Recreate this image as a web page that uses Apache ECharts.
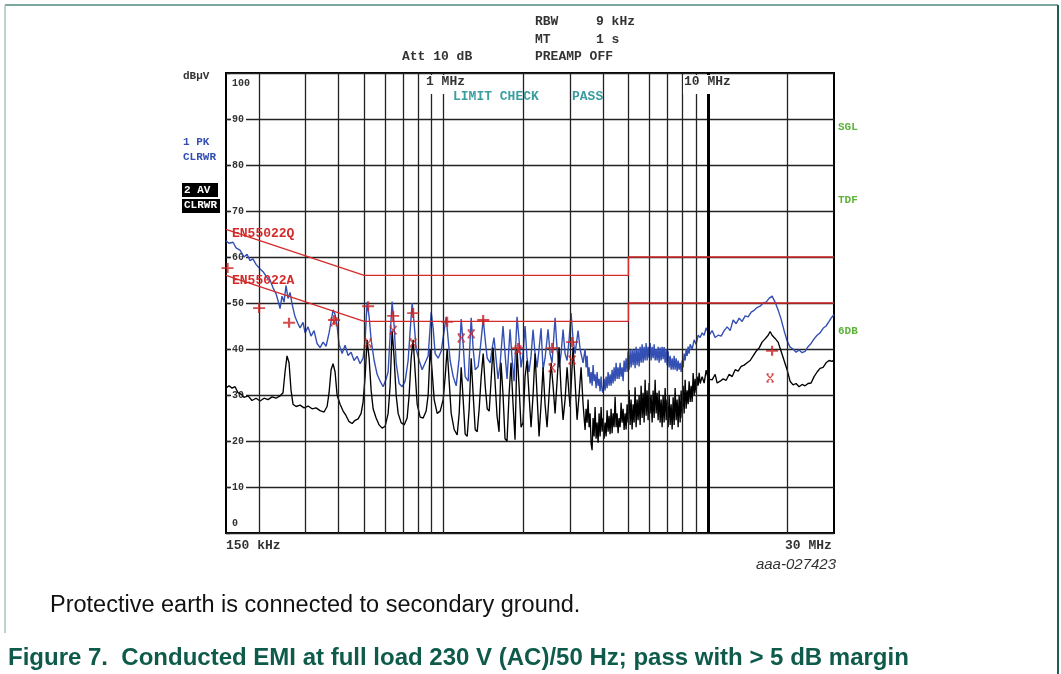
<!DOCTYPE html>
<html><head><meta charset="utf-8">
<script src="https://cdn.jsdelivr.net/npm/echarts@6/dist/echarts.min.js"></script>
<style>html,body{margin:0;padding:0;background:#fff}#c{width:1061px;height:674px}</style>
</head><body><div id="c"></div>
<script>
// ---- data (frequency in MHz, level in dBµV) ----
const yTicks = [0,10,20,30,40,50,60,70,80,90,100];
const gridFreqs = [0.2,0.3,0.4,0.5,0.6,0.7,0.8,0.9,1,2,3,4,5,6,7,8,9,10,20];
const limitQP = [[0.15,66],[0.5,56],[5,56],[5,60],[30,60]];
const limitAV = [[0.15,56],[0.5,46],[5,46],[5,50],[30,50]];
const peakTrace = [[0.150,63.5],[0.154,63.0],[0.1595,63.2],[0.1637,62.0],[0.1695,61.5],[0.1755,60.0],[0.1802,60.6],[0.1849,59.2],[0.1897,59.6],[0.1949,58.4],[0.2019,57.4],[0.2072,56.8],[0.2145,55.5],[0.2202,55.0],[0.2260,53.3],[0.2320,52.0],[0.2361,50.5],[0.2402,48.8],[0.2444,51.5],[0.2487,50.2],[0.2531,53.8],[0.2575,51.0],[0.2621,52.3],[0.2667,49.8],[0.2738,47.0],[0.2810,45.5],[0.2860,44.6],[0.2935,45.8],[0.2988,43.5],[0.3066,44.8],[0.3148,42.8],[0.3231,44.0],[0.3317,41.2],[0.3405,40.3],[0.3495,41.5],[0.3588,40.6],[0.3683,43.5],[0.3748,46.0],[0.3814,48.5],[0.3881,47.5],[0.3949,45.0],[0.4019,41.0],[0.4126,39.0],[0.4235,40.8],[0.4347,38.6],[0.4462,39.3],[0.4580,37.5],[0.4702,38.4],[0.4826,36.8],[0.4954,38.0],[0.5042,42.0],[0.5131,50.2],[0.5221,47.0],[0.5313,42.0],[0.5454,37.5],[0.5598,34.5],[0.5747,33.0],[0.5899,31.8],[0.6055,33.5],[0.6161,35.0],[0.6270,43.0],[0.6380,50.3],[0.6493,45.0],[0.6607,37.0],[0.6782,32.5],[0.6961,31.8],[0.7146,33.0],[0.7335,37.5],[0.7465,44.0],[0.7596,50.0],[0.7730,45.5],[0.7866,40.0],[0.8074,37.5],[0.8288,35.5],[0.8508,37.0],[0.8733,38.5],[0.8965,48.0],[0.9123,44.5],[0.9283,39.0],[0.9529,38.0],[0.9782,39.5],[1.0041,44.0],[1.0218,47.0],[1.0398,42.0],[1.0580,37.5],[1.0861,34.0],[1.1149,32.0],[1.1444,38.0],[1.1646,46.5],[1.1850,41.0],[1.2059,34.0],[1.2379,33.0],[1.2707,46.8],[1.2930,40.0],[1.3158,35.5],[1.3507,36.2],[1.3745,40.0],[1.4109,46.5],[1.4357,42.0],[1.4610,38.0],[1.4997,37.0],[1.5237,40.0],[1.5505,42.5],[1.5777,38.0],[1.6055,33.5],[1.6338,36.5],[1.6771,45.0],[1.7066,39.0],[1.7366,33.5],[1.7826,44.3],[1.8140,38.0],[1.8459,33.0],[1.8948,47.0],[1.9282,42.0],[1.9621,36.0],[1.9966,39.0],[2.0318,45.0],[2.0675,38.0],[2.1039,35.0],[2.1409,38.5],[2.1786,44.2],[2.2169,39.0],[2.2559,36.0],[2.2956,40.0],[2.3359,44.5],[2.3770,35.5],[2.4188,38.0],[2.4830,44.3],[2.5267,39.0],[2.5711,37.0],[2.6393,46.8],[2.6857,40.0],[2.7329,36.0],[2.7810,39.0],[2.8299,44.2],[2.8797,39.0],[2.9303,37.5],[2.9819,42.0],[3.0344,47.8],[3.0877,42.0],[3.1420,39.0],[3.2253,44.0],[3.2821,40.0],[3.3691,37.0],
 [3.4283,40.0],[3.4583,36.0],[3.4886,38.5],[3.5191,34.0],[3.5499,36.0],[3.5810,32.5],[3.6124,35.0],[3.6440,32.0],[3.6759,36.5],[3.7080,33.0],[3.7405,34.5],[3.7734,31.5],[3.8064,35.0],[3.8397,32.0],[3.8733,33.5],[3.9073,30.8],[3.9415,34.0],[3.9760,31.0],[4.0107,30.5],[4.0459,33.5],[4.0812,31.0],[4.1171,34.0],[4.1531,31.5],[4.1893,35.0],[4.2260,32.0],[4.2631,34.5],[4.3005,32.0],[4.3381,35.5],[4.3760,32.5],[4.4144,36.0],[4.4530,33.0],[4.4922,37.0],[4.5313,33.5],[4.5709,36.0],[4.6110,33.5],[4.6515,37.0],[4.6923,34.0],[4.7333,36.0],[4.7748,33.0],[4.8166,37.5],[4.8588,35.0],[4.9015,38.0],[4.9442,35.0],[4.9875,39.5],[5.0313,35.5],[5.0753,39.8],[5.1198,36.0],[5.1645,40.0],[5.2097,36.5],[5.2554,39.8],[5.3014,35.8],[5.3480,40.5],[5.3947,36.5],[5.4421,40.0],[5.4896,36.2],[5.5378,40.5],[5.5863,37.0],[5.6352,41.0],[5.6844,37.0],[5.7342,40.5],[5.7843,37.5],[5.8353,41.3],[5.8863,37.5],[5.9376,40.5],[5.9898,38.0],[6.0423,41.3],[6.0953,37.5],[6.1486,40.5],[6.2025,38.0],[6.2568,41.0],[6.3116,37.5],[6.3669,40.0],[6.4226,37.5],[6.4788,40.5],[6.5355,37.0],[6.5923,40.3],[6.6506,37.5],[6.7085,40.5],[6.7665,37.8],[6.8258,40.4],[6.8867,37.0],[6.9470,40.0],[7.0077,36.5],[7.0690,39.5],[7.1309,36.0],[7.1934,38.5],[7.2566,35.5],[7.3200,38.0],[7.3841,35.5],[7.4484,38.5],[7.5140,35.5],[7.5800,38.0],[7.6463,35.2],[7.7131,37.5],[7.7807,35.5],[7.8492,37.0],[7.9178,35.0],[7.9871,37.5],[8.0566,36.0],[8.1272,39.0],[8.1987,37.5],[8.2706,40.0],[8.3423,38.5],[8.4152,40.5],[8.4888,39.0],[8.5644,41.0],[8.7147,40.0],[8.8683,42.0],[9.0240,41.0],[9.1830,43.0],[9.3446,42.5],[9.5087,43.5],[9.6753,43.0],[9.8463,44.6],
 [10.107,43.0],[10.375,44.0],[10.650,42.5],[10.931,43.0],[11.222,42.8],[11.519,44.0],[11.825,44.8],[12.138,44.0],[12.459,46.3],[12.790,45.5],[13.128,46.7],[13.477,46.0],[13.833,47.2],[14.200,47.0],[14.577,48.0],[14.957,48.4],[15.35,49.0],[15.76,49.3],[16.18,50.0],[16.60,50.2],[17.04,51.0],[17.49,51.5],[17.95,50.2],[18.43,48.5],[18.92,46.5],[19.42,44.0],[19.93,41.8],[20.46,40.4],[21.00,40.0],[21.56,39.3],[22.13,39.8],[22.72,39.2],[23.32,39.5],[23.93,40.5],[24.57,41.2],[25.22,42.2],[25.89,43.0],[26.57,43.5],[27.28,44.5],[28.00,45.0],[28.74,46.0],[29.25,46.7],[30.0,47.5]];
const avgTrace = [[0.150,31.5],[0.154,32.0],[0.1581,31.5],[0.1623,31.8],[0.1666,30.5],[0.1710,30.2],[0.1755,29.5],[0.1818,29.8],[0.1881,28.8],[0.1949,29.3],[0.2019,28.7],[0.2090,29.3],[0.2164,29.0],[0.2240,29.6],[0.2320,29.3],[0.2402,29.8],[0.2465,30.5],[0.2509,35.0],[0.2553,38.5],[0.2598,37.0],[0.2644,31.0],[0.2690,28.0],[0.2762,27.5],[0.2860,27.8],[0.2962,27.2],[0.3066,27.6],[0.3176,27.0],[0.3288,27.2],[0.3405,26.6],[0.3526,26.3],[0.3620,27.5],[0.3683,30.5],[0.3748,35.5],[0.3814,36.8],[0.3881,35.0],[0.3949,30.0],[0.4054,28.0],[0.4162,26.5],[0.4272,25.5],[0.4385,24.2],[0.4501,23.8],[0.4621,24.5],[0.4743,24.8],[0.4869,26.0],[0.4954,28.5],[0.5042,34.0],[0.5131,42.0],[0.5221,38.0],[0.5313,31.0],[0.5406,27.0],[0.5549,25.0],[0.5697,23.5],[0.5848,22.8],[0.6003,23.2],[0.6161,26.0],[0.6270,32.0],[0.6380,44.0],[0.6493,38.0],[0.6607,30.0],[0.6724,26.0],[0.6901,24.0],[0.7084,23.5],[0.7272,25.0],[0.7400,30.0],[0.7530,38.0],[0.7662,42.0],[0.7798,35.0],[0.7935,28.0],[0.8145,25.2],[0.8360,25.0],[0.8582,26.5],[0.8733,30.0],[0.8887,40.0],[0.9044,35.0],[0.9203,29.0],[0.9447,26.0],[0.9697,26.5],[0.9954,29.0],[1.0129,34.0],[1.0307,40.0],[1.0488,33.0],[1.0673,26.0],[1.0956,22.5],[1.1246,21.3],[1.1444,26.0],[1.1646,36.0],[1.1850,29.0],[1.2059,21.5],[1.2271,21.0],[1.2487,27.0],[1.2707,38.0],[1.2930,30.0],[1.3158,22.5],[1.3390,22.0],[1.3625,27.0],[1.3865,34.0],[1.4109,39.0],[1.4357,32.0],[1.4610,27.0],[1.4867,26.5],[1.5105,33.0],[1.5371,40.3],[1.5641,33.0],[1.5916,25.5],[1.6196,22.0],[1.6481,37.0],[1.6771,30.0],[1.7066,20.5],[1.7366,20.0],[1.7671,30.0],[1.7982,37.0],[1.8298,28.0],[1.8620,20.3],[1.8948,40.0],[1.9282,32.0],[1.9621,23.0],[1.9966,24.0],[2.0318,34.0],[2.0675,37.5],[2.1039,30.0],[2.1409,23.0],[2.1786,30.0],[2.2169,39.0],[2.2559,30.0],[2.2956,21.0],[2.3359,28.0],[2.3770,36.0],[2.4188,28.0],[2.4613,23.0],[2.5046,30.0],[2.5488,37.0],[2.5936,32.0],[2.6393,26.0],[2.6857,33.0],[2.7329,40.4],[2.7810,31.0],[2.8299,24.6],[2.8797,29.0],[2.9303,36.0],[2.9819,30.0],[3.0080,27.4],[3.0877,40.4],[3.1420,33.0],[3.1973,24.6],[3.2536,30.0],[3.3108,36.0],[3.3691,28.0],
 [3.4283,22.4],[3.4583,27.0],[3.4886,24.0],[3.5191,29.0],[3.5499,23.0],[3.5810,26.0],[3.6124,19.5],[3.6440,18.0],[3.6759,25.0],[3.7080,21.0],[3.7405,27.4],[3.7734,20.5],[3.8064,24.0],[3.8397,19.6],[3.8733,26.0],[3.9073,21.0],[3.9415,27.4],[3.9760,22.0],[4.0107,25.0],[4.0459,20.5],[4.0812,24.0],[4.1171,21.0],[4.1531,26.7],[4.1893,22.0],[4.2260,25.5],[4.2631,21.5],[4.3005,27.0],[4.3381,21.7],[4.3760,26.0],[4.4144,23.0],[4.4530,29.6],[4.4922,23.0],[4.5313,26.0],[4.5709,21.7],[4.6110,25.0],[4.6515,23.0],[4.6923,28.3],[4.7333,24.0],[4.7748,27.0],[4.8166,22.4],[4.8588,26.0],[4.9015,22.5],[4.9442,28.0],[4.9875,24.0],[5.0313,31.1],[5.0753,23.5],[5.1198,29.0],[5.1645,22.5],[5.2097,28.0],[5.2554,24.0],[5.3014,31.7],[5.3480,23.0],[5.3947,29.0],[5.4421,24.5],[5.4896,30.0],[5.5378,23.5],[5.5863,32.0],[5.6352,25.0],[5.6844,30.5],[5.7342,24.0],[5.7843,33.3],[5.8353,25.5],[5.8863,31.0],[5.9376,24.5],[5.9898,32.6],[6.0423,26.0],[6.0953,30.0],[6.1486,24.0],[6.2025,31.0],[6.2568,25.0],[6.3116,33.3],[6.3669,26.0],[6.4226,30.5],[6.4788,24.5],[6.5355,31.0],[6.5923,24.0],[6.6506,29.0],[6.7085,23.0],[6.7665,30.0],[6.8258,24.0],[6.8867,31.5],[6.9470,24.5],[7.0077,29.0],[7.0690,23.0],[7.1309,30.0],[7.1934,23.5],[7.2566,28.0],[7.3200,22.5],[7.3841,29.5],[7.4484,23.5],[7.5140,31.5],[7.5800,24.5],[7.6463,29.0],[7.7131,23.0],[7.7807,30.0],[7.8492,24.0],[7.9178,31.0],[7.9871,25.0],[8.0566,32.0],[8.1272,26.0],[8.1987,33.3],[8.2706,27.0],[8.3423,31.0],[8.4152,28.0],[8.4888,33.0],[8.5644,28.5],[8.6391,32.0],[8.7147,28.5],[8.7912,34.8],[8.8683,30.0],[8.9460,33.5],[9.0240,30.5],[9.1032,34.0],[9.1830,32.0],[9.2634,34.8],[9.3446,32.5],[9.5087,34.0],[9.6753,32.6],[9.8463,35.4],[10.021,33.5],
 [10.196,33.5],[10.375,33.3],[10.650,34.5],[10.837,32.6],[11.124,33.0],[11.420,33.5],[11.722,33.2],[12.032,34.5],[12.352,34.0],[12.679,35.5],[13.014,35.2],[13.360,36.2],[13.713,36.5],[14.077,37.0],[14.450,37.5],[14.830,38.5],[15.21,39.5],[15.62,40.2],[16.03,41.5],[16.46,42.2],[16.90,43.0],[17.19,43.8],[17.49,43.0],[17.95,42.3],[18.43,41.5],[18.92,39.5],[19.42,37.5],[19.93,35.5],[20.46,33.0],[21.00,32.2],[21.56,32.5],[22.13,31.8],[22.72,32.3],[23.32,32.0],[23.93,32.5],[24.57,32.6],[25.22,34.0],[25.89,35.0],[26.57,35.8],[27.28,36.0],[28.00,37.0],[28.74,37.5],[29.50,37.3],[30.0,37.6]];
const qpMarks = [[0.152,57.6],[0.2001,48.9],[0.2598,45.7],[0.3848,46.3],[0.5176,49.3],[0.6437,47.2],[0.7662,47.8],[1.0307,45.9],[1.4109,46.3],[1.9115,40.2],[2.5711,40.2],[3.061,41.5],[17.49,39.6]];
const avMarks = [[0.3848,45.9],[0.5176,41.3],[0.6437,44.1],[0.7662,41.3],[1.1646,42.4],[1.2707,43.3],[1.9115,39.8],[2.5711,35.9],[3.061,37.6],[17.19,33.7]];

// ---- styling ----
const MONO = "'Liberation Mono', 'DejaVu Sans Mono', monospace";
const RED = '#d42a2a';
const BLUE = '#3450b4';
const GREEN = '#5cb43a';
const TEAL = '#3a9ea0';

function mono(x, y, text, color, size, bg) {
  const s = size || 13;
  const style = { text: text, fill: color || '#333', font: 'bold ' + s + 'px ' + MONO };
  if (bg) { style.backgroundColor = bg; style.padding = [0, 1, 6, 1]; }
  return { type: 'text', left: x, top: bg ? 75 : y - Math.round(s * 0.55), silent: true, z: 50, style: style };
}

const graphics = [
  // frame
  { type: 'line', silent: true, shape: {x1: 5, y1: 5, x2: 1058, y2: 5}, style: {stroke: '#4f8a80', lineWidth: 1.5} },
  { type: 'line', silent: true, shape: {x1: 5, y1: 5, x2: 5, y2: 633}, style: {stroke: '#a9c3bd', lineWidth: 1.5} },
  { type: 'line', silent: true, shape: {x1: 1058, y1: 5, x2: 1058, y2: 674}, style: {stroke: '#1f5f55', lineWidth: 2} },
  // header
  mono(535, 22, 'RBW'), mono(596, 22, '9 kHz'),
  mono(535, 40, 'MT'), mono(596, 40, '1 s'),
  mono(535, 57, 'PREAMP OFF'),
  mono(402, 57, 'Att 10 dB'),
  mono(183, 77, 'dBµV', '#333', 11),
  mono(183, 143, '1 PK', BLUE, 11),
  mono(183, 158, 'CLRWR', BLUE, 11),
  { type: 'rect', silent: true, shape: {x: 182, y: 183, width: 36, height: 14}, style: {fill: '#000'} },
  { type: 'rect', silent: true, shape: {x: 182, y: 199, width: 38, height: 14}, style: {fill: '#000'} },
  mono(184, 191, '2 AV', '#fff', 11),
  mono(184, 206, 'CLRWR', '#fff', 11),
  mono(838, 128, 'SGL', GREEN, 11),
  mono(838, 201, 'TDF', GREEN, 11),
  mono(838, 332, '6DB', GREEN, 11),
  mono(425, 80, '1 MHz', '#333', 13, '#fff'),
  mono(683, 80, '10 MHz', '#333', 13, '#fff'),
  mono(453, 97, 'LIMIT CHECK', TEAL), mono(572, 97, 'PASS', TEAL),
  mono(232, 234, 'EN55022Q', RED),
  mono(232, 281, 'EN55022A', RED),
  mono(226, 546, '150 kHz'),
  mono(785, 546, '30 MHz'),
  { type: 'text', silent: true, right: 1061 - 836, top: 557,
    style: { text: 'aaa-027423', fill: '#333', font: "italic 15px 'Liberation Sans', Arial, sans-serif" } },
  { type: 'text', silent: true, left: 50, top: 594,
    style: { text: 'Protective earth is connected to secondary ground.', fill: '#111', font: "23.5px 'Liberation Sans', Arial, sans-serif" } },
  { type: 'text', silent: true, left: 8, top: 646,
    style: { text: 'Figure 7.  Conducted EMI at full load 230 V (AC)/50 Hz; pass with > 5 dB margin', fill: '#0e5b4b', font: "bold 24px 'Liberation Sans', Arial, sans-serif" } }
];

const gridLineData = gridFreqs.map(f => f === 10
  ? { xAxis: f, lineStyle: { width: 3, color: '#000' } }
  : { xAxis: f });

const option = {
  animation: false,
  backgroundColor: '#fff',
  grid: { left: 226, right: 1061 - 834, top: 73, bottom: 674 - 533, show: true,
          borderColor: '#000', borderWidth: 2, backgroundColor: '#fff', containLabel: false },
  xAxis: { type: 'log', logBase: 10, min: 0.15, max: 30,
           axisLine: {show: false}, axisTick: {show: false}, axisLabel: {show: false}, splitLine: {show: false} },
  yAxis: { type: 'value', min: yTicks[0], max: yTicks[yTicks.length - 1], interval: 10,
           axisLine: {show: false},
           axisTick: {show: true, inside: true, length: 4, lineStyle: {color: '#222', width: 1.3}},
           splitLine: {show: true, lineStyle: {color: '#222', width: 1.3}},
           axisLabel: {
             inside: true, margin: 5, showMinLabel: true, showMaxLabel: true,
             formatter: function (v) {
               if (v === 100) return '{t|100}';
               if (v === 0) return '{b|0}';
               return '{m|' + v + '}';
             },
             rich: {
               m: { fontFamily: MONO, fontWeight: 'bold', fontSize: 10, color: '#333', backgroundColor: '#fff', padding: [1, 2, 1, 1] },
               t: { fontFamily: MONO, fontWeight: 'bold', fontSize: 10, color: '#333', padding: [20, 2, 0, 1] },
               b: { fontFamily: MONO, fontWeight: 'bold', fontSize: 10, color: '#333', padding: [0, 2, 20, 1] }
             }
           } },
  series: [
    { type: 'line', data: [], silent: true,
      markLine: { silent: true, symbol: ['none', 'none'], label: {show: false}, animation: false,
                  lineStyle: { color: '#222', width: 1.3, type: 'solid' },
                  emphasis: { disabled: true },
                  data: gridLineData } },
    { name: '1 PK', type: 'line', data: peakTrace, showSymbol: false, symbol: 'none', silent: true,
      lineStyle: { color: BLUE, width: 1.4 }, z: 3 },
    { name: '2 AV', type: 'line', data: avgTrace, showSymbol: false, symbol: 'none', silent: true,
      lineStyle: { color: '#000', width: 1.35 }, z: 4 },
    { name: 'EN55022Q', type: 'line', data: limitQP, showSymbol: false, symbol: 'none', silent: true,
      lineStyle: { color: RED, width: 1.3 }, z: 5 },
    { name: 'EN55022A', type: 'line', data: limitAV, showSymbol: false, symbol: 'none', silent: true,
      lineStyle: { color: RED, width: 1.3 }, z: 5 },
    { name: 'QP', type: 'scatter', data: qpMarks, silent: true, z: 6,
      symbol: 'path://M0,5L10,5M5,0L5,10', symbolSize: [12, 10],
      itemStyle: { color: 'none', borderColor: '#cc2020', borderWidth: 2 } },
    { name: 'AV', type: 'scatter', data: avMarks, silent: true, z: 6,
      symbol: 'path://M0,0L10,10M10,0L0,10M0,0L3,0M7,0L10,0M0,10L3,10M7,10L10,10', symbolSize: [7, 8],
      itemStyle: { color: 'none', borderColor: '#cc2020', borderWidth: 1.3 } }
  ],
  graphic: graphics
};

const chart = echarts.init(document.getElementById('c'), null, { renderer: 'canvas' });
chart.setOption(option);
</script></body></html>
